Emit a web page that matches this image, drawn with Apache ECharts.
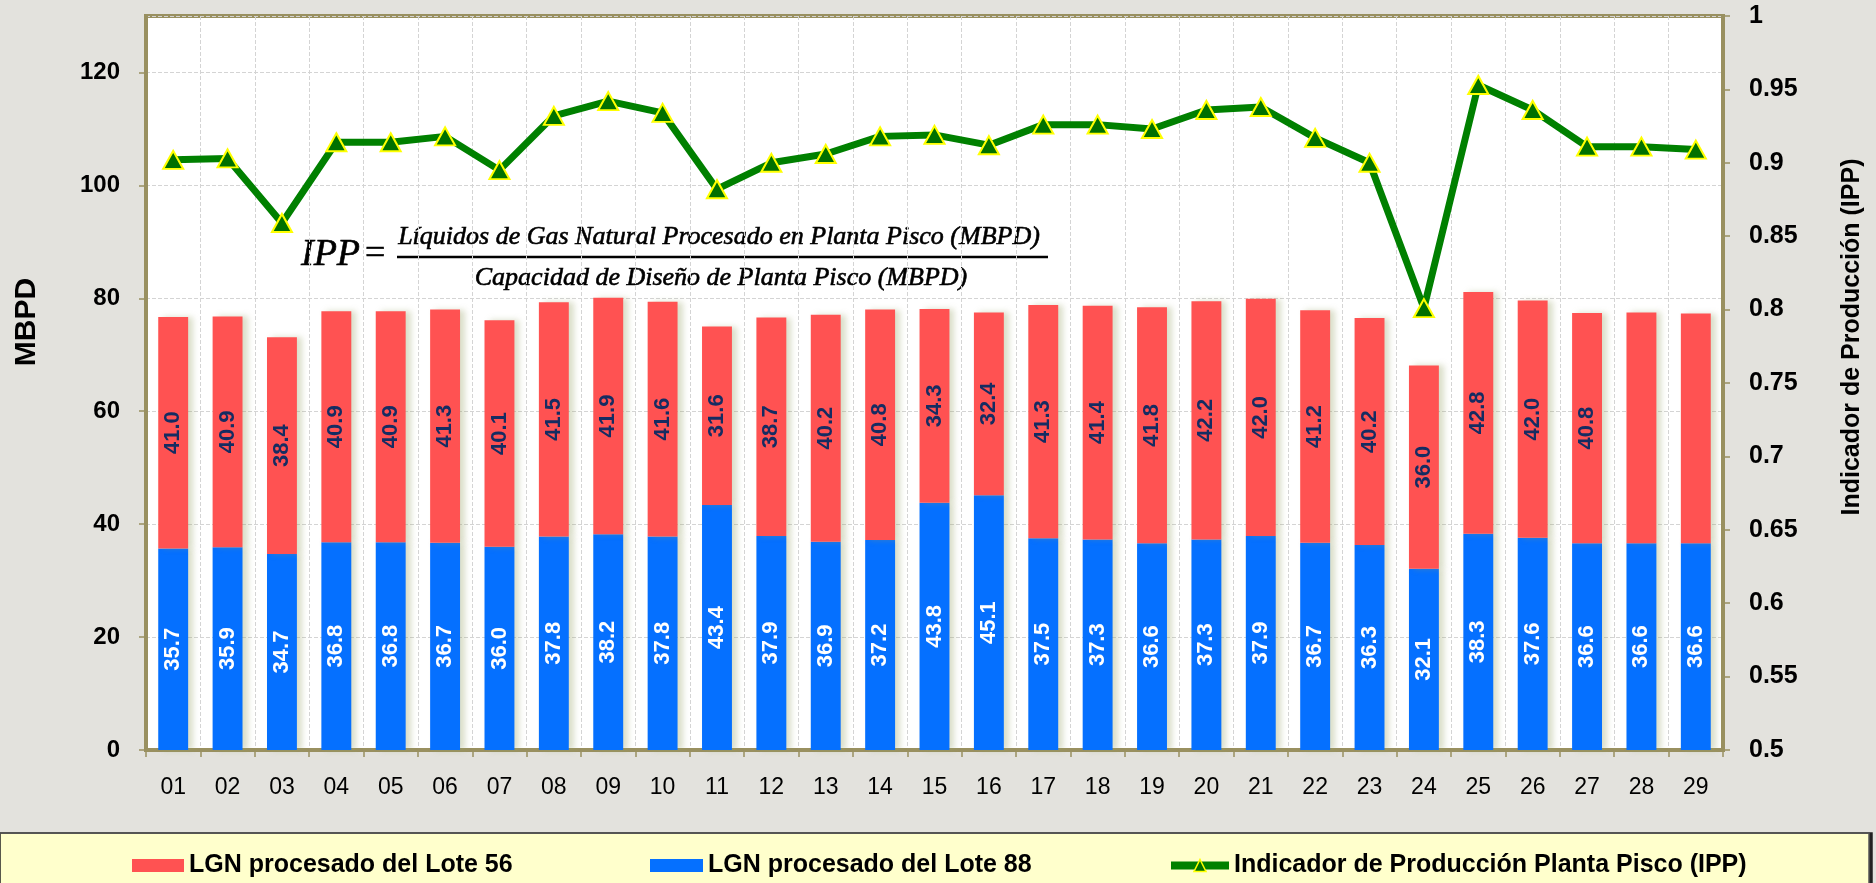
<!DOCTYPE html>
<html>
<head>
<meta charset="utf-8">
<title>IPP Planta Pisco</title>
<script src="https://cdn.jsdelivr.net/npm/echarts@6/dist/echarts.min.js"></script>
<style>
  html, body { margin: 0; padding: 0; background: #e3e2dd; }
  #chart { width: 1876px; height: 883px; }
</style>
</head>
<body>
<div id="chart"></div>
<script>
// dias del mes
const days = ['01', '02', '03', '04', '05', '06', '07', '08', '09', '10',
  '11', '12', '13', '14', '15', '16', '17', '18', '19', '20',
  '21', '22', '23', '24', '25', '26', '27', '28', '29']

// LGN procesado del Lote 88 (MBPD)
const lote88 = [35.7, 35.9, 34.7, 36.8, 36.8, 36.7, 36.0, 37.8, 38.2, 37.8,
  43.4, 37.9, 36.9, 37.2, 43.8, 45.1, 37.5, 37.3, 36.6, 37.3,
  37.9, 36.7, 36.3, 32.1, 38.3, 37.6, 36.6, 36.6, 36.6]

// LGN procesado del Lote 56 (MBPD)
const lote56 = [41.0, 40.9, 38.4, 40.9, 40.9, 41.3, 40.1, 41.5, 41.9, 41.6,
  31.6, 38.7, 40.2, 40.8, 34.3, 32.4, 41.3, 41.4, 41.8, 42.2,
  42.0, 41.2, 40.2, 36.0, 42.8, 42.0, 40.8, 40.9, 40.7]
// en el original estos dias no tienen etiqueta
const lote56NoLabel = ['28', '29']

// Indicador de Produccion Planta Pisco
const ipp = [0.902, 0.903, 0.859, 0.914, 0.914, 0.918, 0.895, 0.932, 0.942, 0.934,
  0.882, 0.900, 0.906, 0.918, 0.919, 0.912, 0.926, 0.926, 0.923, 0.936,
  0.938, 0.917, 0.900, 0.801, 0.953, 0.936, 0.911, 0.911, 0.909]

// ejes
const leftAxis = { min: 0, max: 130, interval: 20 }
const rightAxis = { min: 0.5, max: 1, interval: 0.05 }

const names = {
  l56: 'LGN procesado del Lote 56',
  l88: 'LGN procesado del Lote 88',
  ipp: 'Indicador de Producción Planta Pisco (IPP)'
}

const olive = '#999060'
const gridGrey = '#d4d4d4'
const font = 'Liberation Sans, Arial, sans-serif'
const mathFont = 'Liberation Serif, Times New Roman, serif'

const barShadow = {
  shadowColor: 'rgba(150,160,100,0.35)',
  shadowBlur: 6,
  shadowOffsetX: 5
}

const legendBase = {
  top: 853,
  padding: 0,
  itemGap: 0,
  textStyle: { fontFamily: font, fontSize: 25, fontWeight: 'bold', color: '#000' }
}

// texto de la formula, un poco mas grueso
const mathText = (text, size, italic) => ({
  text: text,
  font: (italic ? 'italic ' : '') + size + 'px ' + mathFont,
  fill: '#000',
  stroke: '#000',
  lineWidth: 0.6
})

const option = {
  animation: false,
  backgroundColor: '#e3e2dd',
  grid: {
    left: 146,
    right: 153,
    top: 16,
    bottom: 133,
    show: true,
    backgroundColor: '#fff',
    borderColor: olive,
    borderWidth: 4
  },
  legend: [
    Object.assign({}, legendBase, {
      left: 132, data: [names.l56], icon: 'rect', itemWidth: 52, itemHeight: 13
    }),
    Object.assign({}, legendBase, {
      left: 650, data: [names.l88], icon: 'rect', itemWidth: 53, itemHeight: 13
    }),
    Object.assign({}, legendBase, {
      left: 1167, data: [names.ipp], itemWidth: 58, itemHeight: 15,
      lineStyle: { width: 8, color: '#008000' },
      itemStyle: { color: '#007000', borderColor: '#ffff00', borderWidth: 1.5 }
    })
  ],
  xAxis: [{
    type: 'category',
    data: days,
    boundaryGap: true,
    axisLine: { lineStyle: { color: olive, width: 4 } },
    axisTick: { show: true, length: 7, lineStyle: { color: olive, width: 1.5 } },
    axisLabel: { margin: 26, fontFamily: font, fontSize: 23, color: '#000' },
    splitLine: { show: true, lineStyle: { color: gridGrey, type: 'dashed' } }
  }],
  yAxis: [{
    type: 'value',
    min: leftAxis.min,
    max: leftAxis.max,
    interval: leftAxis.interval,
    name: 'MBPD',
    nameLocation: 'middle',
    nameRotate: 90,
    nameGap: 104,
    nameTextStyle: {
      fontFamily: font, fontSize: 30, fontWeight: 'bold', color: '#000',
      padding: [0, 0, 0, 122]
    },
    axisLine: { show: true, lineStyle: { color: olive, width: 4 } },
    axisTick: { show: true, length: 7, lineStyle: { color: olive, width: 1.5 } },
    axisLabel: {
      margin: 26, showMaxLabel: false,
      fontFamily: font, fontSize: 24, fontWeight: 'bold', color: '#000'
    },
    splitLine: { show: true, lineStyle: { color: gridGrey, type: 'dashed' } }
  }, {
    type: 'value',
    position: 'right',
    min: rightAxis.min,
    max: rightAxis.max,
    interval: rightAxis.interval,
    name: 'Indicador de Producción (IPP)',
    nameLocation: 'middle',
    nameRotate: 90,
    nameGap: 117,
    nameTextStyle: {
      fontFamily: font, fontSize: 25, fontWeight: 'bold', color: '#000',
      padding: [0, 0, 0, 92]
    },
    axisLine: { show: true, lineStyle: { color: olive, width: 4 } },
    axisTick: { show: true, length: 7, lineStyle: { color: olive, width: 1.5 } },
    axisLabel: {
      margin: 26, fontFamily: font, fontSize: 25, fontWeight: 'bold', color: '#000'
    },
    splitLine: { show: false }
  }],
  graphic: [
    // recuadro amarillo de la leyenda
    {
      type: 'rect',
      z: 0,
      shape: { x: -3, y: 833, width: 1872, height: 60 },
      style: {
        fill: '#ffffcc', stroke: '#555', lineWidth: 1.5,
        shadowColor: '#222', shadowOffsetX: 3, shadowBlur: 0
      }
    },
    // formula del IPP
    {
      type: 'group',
      z: 1,
      children: [
        { type: 'rect', shape: { x: 290, y: 218, width: 768, height: 75 }, style: { fill: '#fff' } },
        {
          type: 'text', x: 301, y: 255,
          style: Object.assign(mathText('IPP', 38, true), { verticalAlign: 'middle' })
        },
        {
          type: 'text', x: 365, y: 255,
          style: Object.assign(mathText('=', 36, false), { verticalAlign: 'middle' })
        },
        {
          type: 'text', x: 719, y: 237,
          style: Object.assign(mathText('Líquidos de Gas Natural Procesado en Planta Pisco (MBPD)', 26, true),
            { align: 'center', verticalAlign: 'middle' })
        },
        {
          type: 'line', shape: { x1: 397, y1: 257, x2: 1048, y2: 257 },
          style: { stroke: '#000', lineWidth: 2.5 }
        },
        {
          type: 'text', x: 721, y: 278,
          style: Object.assign(mathText('Capacidad de Diseño de Planta Pisco (MBPD)', 26, true),
            { align: 'center', verticalAlign: 'middle' })
        }
      ]
    }
  ],
  series: [{
    name: names.l88,
    type: 'bar',
    stack: 'lgn',
    barWidth: '55%',
    itemStyle: Object.assign({ color: '#0570ff' }, barShadow),
    label: {
      show: true, position: 'inside', rotate: 90,
      fontFamily: font, fontSize: 22, fontWeight: 'bold', color: '#fff',
      formatter: p => p.value.toFixed(1)
    },
    data: lote88
  }, {
    name: names.l56,
    type: 'bar',
    stack: 'lgn',
    barWidth: '55%',
    itemStyle: Object.assign({ color: '#ff5252' }, barShadow),
    label: {
      show: true, position: 'inside', rotate: 90,
      fontFamily: font, fontSize: 22, fontWeight: 'bold', color: '#152c62',
      formatter: p => p.value.toFixed(1)
    },
    data: lote56.map((v, i) => ({
      value: v,
      label: { show: lote56NoLabel.indexOf(days[i]) < 0 }
    }))
  }, {
    name: names.ipp,
    type: 'line',
    yAxisIndex: 1,
    z: 5,
    symbol: 'triangle',
    symbolSize: [20, 18],
    lineStyle: { color: '#008000', width: 7 },
    itemStyle: { color: '#007000', borderColor: '#ffff00', borderWidth: 2 },
    data: ipp
  }]
}

const myChart = echarts.init(document.getElementById('chart'))
myChart.setOption(option)
window.addEventListener('resize', () => {
  myChart.resize()
})
</script>
</body>
</html>
